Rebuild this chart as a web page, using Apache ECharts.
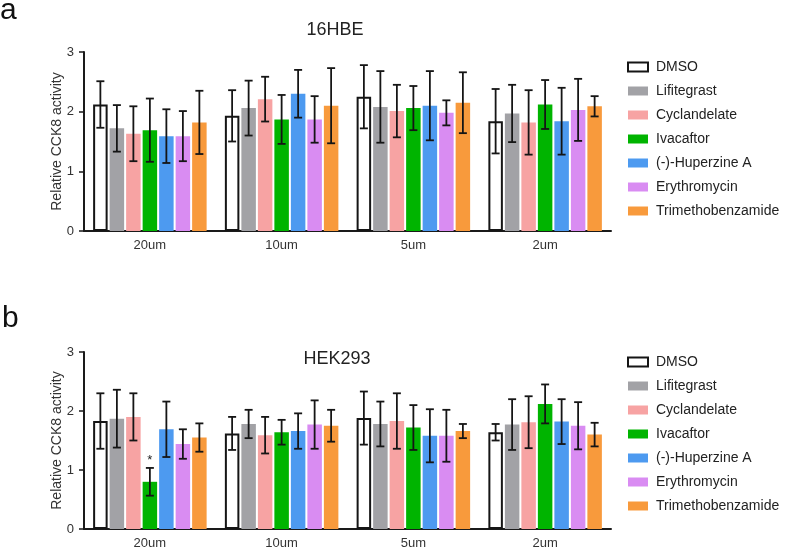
<!DOCTYPE html>
<html>
<head>
<meta charset="utf-8">
<script src="https://cdn.jsdelivr.net/npm/echarts@6/dist/echarts.min.js"></script>
<style>
html,body{margin:0;padding:0;background:#fff;}
#c{width:787px;height:554px;}
</style>
</head>
<body>
<div id="c"></div>
<script>
// ---- data ----
const categories = ['20um', '10um', '5um', '2um'];
const seriesNames = ['DMSO', 'Lifitegrast', 'Cyclandelate', 'Ivacaftor', '(-)-Huperzine A', 'Erythromycin', 'Trimethobenzamide'];
const yTicks = [0, 1, 2, 3];

// 16HBE means / SD
const hbeDMSO = [2.12, 1.93, 2.25, 1.84];
const hbeLifitegrast = [1.72, 2.06, 2.08, 1.97];
const hbeCyclandelate = [1.63, 2.21, 2.01, 1.82];
const hbeIvacaftor = [1.69, 1.87, 2.06, 2.12];
const hbeHuperzine = [1.59, 2.30, 2.10, 1.84];
const hbeErythromycin = [1.59, 1.87, 1.98, 2.03];
const hbeTrimetho = [1.82, 2.10, 2.15, 2.09];
const hbeDMSOsd = [0.39, 0.43, 0.53, 0.54];
const hbeLifitegrastSd = [0.39, 0.46, 0.60, 0.48];
const hbeCyclandelateSd = [0.46, 0.375, 0.44, 0.54];
const hbeIvacaftorSd = [0.53, 0.41, 0.37, 0.41];
const hbeHuperzineSd = [0.45, 0.40, 0.58, 0.56];
const hbeErythromycinSd = [0.42, 0.39, 0.21, 0.52];
const hbeTrimethoSd = [0.53, 0.63, 0.51, 0.17];

// HEK293 means / SD
const hekDMSO = [1.83, 1.62, 1.88, 1.64];
const hekLifitegrast = [1.87, 1.78, 1.78, 1.77];
const hekCyclandelate = [1.90, 1.59, 1.83, 1.81];
const hekIvacaftor = [0.80, 1.64, 1.72, 2.12];
const hekHuperzine = [1.69, 1.66, 1.58, 1.82];
const hekErythromycin = [1.44, 1.77, 1.58, 1.75];
const hekTrimetho = [1.55, 1.75, 1.66, 1.60];
const hekDMSOsd = [0.47, 0.28, 0.45, 0.14];
const hekLifitegrastSd = [0.49, 0.24, 0.38, 0.43];
const hekCyclandelateSd = [0.40, 0.31, 0.47, 0.44];
const hekIvacaftorSd = [0.235, 0.21, 0.38, 0.33];
const hekHuperzineSd = [0.47, 0.30, 0.45, 0.38];
const hekErythromycinSd = [0.25, 0.41, 0.44, 0.40];
const hekTrimethoSd = [0.24, 0.27, 0.12, 0.20];

// significance marks: [categoryIndex, seriesIndex, text]
const hekStars = [[0, 3, '*']];

// ---- styling ----
const colors = ['#ffffff', '#a2a2a6', '#f7a3a3', '#00b400', '#4d9af0', '#d98cf2', '#f89a3c'];
const BW = 14.5, GAP = 2;
const TOTAL = seriesNames.length * BW + (seriesNames.length - 1) * GAP;
const FONT = 'Liberation Sans, Arial, sans-serif';

const hbeMeans = [hbeDMSO, hbeLifitegrast, hbeCyclandelate, hbeIvacaftor, hbeHuperzine, hbeErythromycin, hbeTrimetho];
const hbeSds = [hbeDMSOsd, hbeLifitegrastSd, hbeCyclandelateSd, hbeIvacaftorSd, hbeHuperzineSd, hbeErythromycinSd, hbeTrimethoSd];
const hekMeans = [hekDMSO, hekLifitegrast, hekCyclandelate, hekIvacaftor, hekHuperzine, hekErythromycin, hekTrimetho];
const hekSds = [hekDMSOsd, hekLifitegrastSd, hekCyclandelateSd, hekIvacaftorSd, hekHuperzineSd, hekErythromycinSd, hekTrimethoSd];

function offsetOf(s) { return -TOTAL / 2 + s * (BW + GAP) + BW / 2; }

function barSeries(means, axisIdx) {
  return means.map((m, s) => ({
    type: 'bar',
    name: seriesNames[s],
    xAxisIndex: axisIdx, yAxisIndex: axisIdx,
    data: m,
    barWidth: BW,
    barGap: (GAP / BW * 100) + '%',
    itemStyle: s === 0 ? { color: '#ffffff', borderColor: '#151515', borderWidth: 2 } : { color: colors[s] },
    emphasis: { disabled: true },
    z: 2
  }));
}

function errSeries(means, sds, axisIdx) {
  const data = [];
  means.forEach((m, s) => m.forEach((v, c) => data.push([c, v - sds[s][c], v + sds[s][c], s])));
  return {
    type: 'custom',
    xAxisIndex: axisIdx, yAxisIndex: axisIdx,
    data: data,
    encode: { x: 0, y: [1, 2] },
    z: 5,
    silent: true,
    renderItem: function (params, api) {
      const c = api.value(0), lo = api.value(1), hi = api.value(2), s = api.value(3);
      const pHi = api.coord([c, hi]);
      const pLo = api.coord([c, lo]);
      const x = pHi[0] + offsetOf(s);
      const cap = 4;
      const st = { stroke: '#151515', lineWidth: 1.8 };
      return {
        type: 'group',
        children: [
          { type: 'line', shape: { x1: x, y1: pHi[1], x2: x, y2: pLo[1] }, style: st },
          { type: 'line', shape: { x1: x - cap, y1: pHi[1], x2: x + cap, y2: pHi[1] }, style: st },
          { type: 'line', shape: { x1: x - cap, y1: pLo[1], x2: x + cap, y2: pLo[1] }, style: st }
        ]
      };
    }
  };
}

function starSeries(stars, means, sds, axisIdx) {
  return {
    type: 'custom',
    xAxisIndex: axisIdx, yAxisIndex: axisIdx,
    data: stars.map(st => [st[0], means[st[1]][st[0]] + sds[st[1]][st[0]], st[1]]),
    encode: { x: 0, y: 1 },
    z: 6,
    silent: true,
    renderItem: function (params, api) {
      const c = api.value(0), hi = api.value(1), s = api.value(2);
      const p = api.coord([c, hi]);
      return {
        type: 'text',
        style: { x: p[0] + offsetOf(s), y: p[1] - 1, text: stars[params.dataIndex][2], fill: '#222', font: '13px ' + FONT, textAlign: 'center', textVerticalAlign: 'bottom' }
      };
    }
  };
}

function xAxisCfg(gridIndex) {
  return {
    type: 'category', gridIndex: gridIndex, data: categories,
    axisLine: { lineStyle: { color: '#1a1a1a', width: 2 } },
    axisTick: { alignWithLabel: true, length: 5, lineStyle: { color: '#1a1a1a', width: 1.5 } },
    axisLabel: { color: '#333', fontSize: 13, fontFamily: FONT, margin: 8 }
  };
}
function yAxisCfg(gridIndex) {
  return {
    type: 'value', gridIndex: gridIndex, min: yTicks[0], max: yTicks[yTicks.length - 1], interval: 1,
    name: 'Relative CCK8 activity', nameLocation: 'middle', nameGap: 20, nameMoveOverlap: false,
    nameTextStyle: { color: '#333', fontSize: 14, fontFamily: FONT },
    axisLine: { show: true, lineStyle: { color: '#1a1a1a', width: 2 } },
    axisTick: { show: true, length: 5, lineStyle: { color: '#1a1a1a', width: 1.5 } },
    axisLabel: { color: '#333', fontSize: 13, fontFamily: FONT, margin: 10 },
    splitLine: { show: false }
  };
}
function legendCfg(top) {
  return {
    orient: 'vertical', left: 622, top: top,
    data: seriesNames,
    icon: 'rect', itemWidth: 20, itemHeight: 9, itemGap: 8,
    selectedMode: false,
    textStyle: { color: '#222', fontSize: 14, fontFamily: FONT, lineHeight: 16, padding: [0, 0, 0, 3] }
  };
}

const chart = echarts.init(document.getElementById('c'), null, { renderer: 'canvas' });
chart.setOption({
  backgroundColor: '#fff',
  animation: false,
  textStyle: { fontFamily: FONT },
  title: [
    { text: '16HBE', left: 330, top: 16, textAlign: 'center', textStyle: { fontSize: 18, fontWeight: 'normal', color: '#222', fontFamily: FONT } },
    { text: 'HEK293', left: 332, top: 345, textAlign: 'center', textStyle: { fontSize: 18, fontWeight: 'normal', color: '#222', fontFamily: FONT } }
  ],
  graphic: [
    { type: 'text', left: 0, top: -4, style: { text: 'a', font: '30px ' + FONT, fill: '#111' } },
    { type: 'text', left: 2, top: 304, style: { text: 'b', font: '30px ' + FONT, fill: '#111' } }
  ],
  legend: [legendCfg(54), legendCfg(349)],
  grid: [
    { left: 84, top: 52, width: 527, height: 179 },
    { left: 84, top: 352, width: 527, height: 177 }
  ],
  xAxis: [xAxisCfg(0), xAxisCfg(1)],
  yAxis: [yAxisCfg(0), yAxisCfg(1)],
  series: [].concat(
    barSeries(hbeMeans, 0),
    barSeries(hekMeans, 1),
    [errSeries(hbeMeans, hbeSds, 0), errSeries(hekMeans, hekSds, 1), starSeries(hekStars, hekMeans, hekSds, 1)]
  )
});
</script>
</body>
</html>
